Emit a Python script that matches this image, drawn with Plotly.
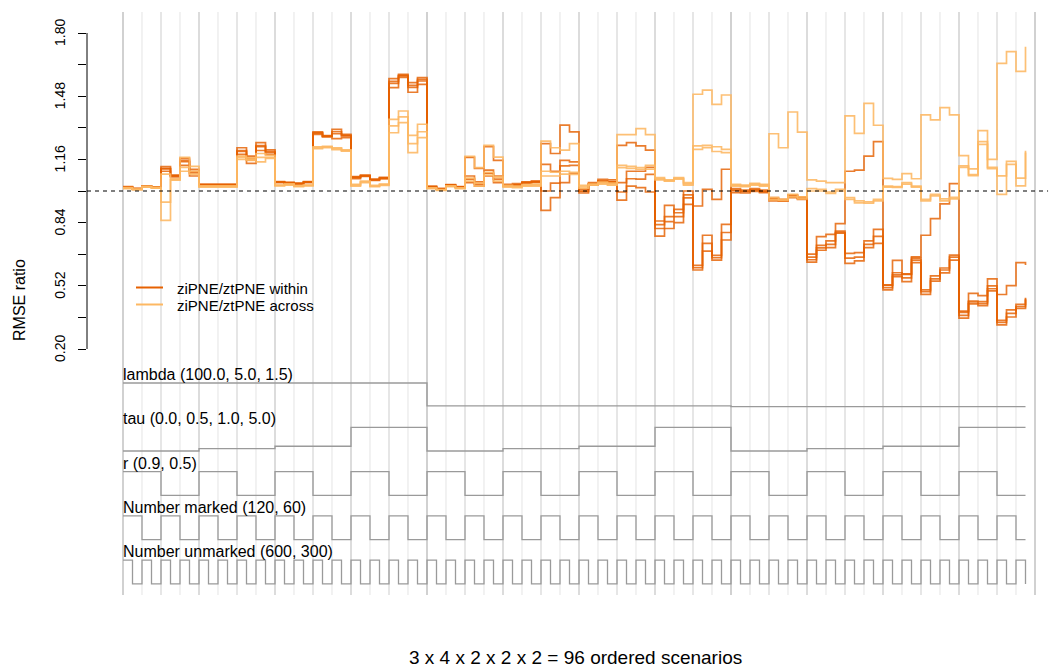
import plotly.graph_objects as go

# ---------------- data ----------------
scenario = list(range(1, 97))

w_hi = [1.022, 1.013, 1.026, 1.021, 1.123, 1.080, 1.165, 1.110, 1.034, 1.034, 1.034, 1.034,
        1.219, 1.177, 1.245, 1.208, 1.048, 1.044, 1.040, 1.048, 1.299, 1.280, 1.312, 1.287,
        1.073, 1.080, 1.060, 1.069, 1.569, 1.590, 1.549, 1.574,
        1.024, 1.013, 1.032, 1.022, 1.076, 1.046, 1.106, 1.076, 1.034, 1.037, 1.046, 1.050,
        1.135, 1.100, 1.155, 1.147, 1.010, 1.042, 1.059, 1.056, 1.042, 1.100, 1.100, 1.120,
        0.848, 0.870, 0.907, 1.000, 0.624, 0.776, 0.674, 0.831,
        1.012, 1.005, 1.012, 1.005, 0.966, 0.958, 0.980, 0.970, 0.665, 0.725, 0.747, 0.797,
        0.684, 0.688, 0.747, 0.806, 0.522, 0.586, 0.578, 0.660, 0.499, 0.570, 0.610, 0.675,
        0.385, 0.443, 0.440, 0.520, 0.345, 0.398, 0.426, 0.460]
w_mid = [1.020, 1.011, 1.024, 1.019, 1.112, 1.076, 1.148, 1.092, 1.032, 1.032, 1.032, 1.032,
         1.200, 1.158, 1.225, 1.195, 1.045, 1.041, 1.037, 1.045, 1.293, 1.277, 1.290, 1.279,
         1.068, 1.077, 1.057, 1.065, 1.545, 1.583, 1.525, 1.557,
         1.022, 1.011, 1.030, 1.020, 1.060, 1.035, 1.090, 1.060, 1.030, 1.031, 1.043, 1.047,
         1.000, 1.040, 1.127, 1.130, 0.998, 1.036, 1.050, 1.046, 0.995, 1.062, 1.060, 1.084,
         0.810, 0.845, 0.870, 0.965, 0.612, 0.735, 0.662, 0.790,
         1.002, 0.998, 1.005, 0.998, 0.958, 0.952, 0.972, 0.962, 0.652, 0.712, 0.730, 0.790,
         0.660, 0.665, 0.730, 0.770, 0.510, 0.575, 0.560, 0.650, 0.490, 0.555, 0.600, 0.665,
         0.370, 0.438, 0.430, 0.505, 0.335, 0.380, 0.415, 0.455]
w_lo = [1.018, 1.009, 1.022, 1.017, 1.100, 1.072, 1.130, 1.076, 1.030, 1.030, 1.030, 1.030,
        1.185, 1.140, 1.205, 1.185, 1.042, 1.038, 1.034, 1.042, 1.287, 1.274, 1.265, 1.270,
        1.062, 1.074, 1.054, 1.061, 1.523, 1.575, 1.500, 1.540,
        1.020, 1.009, 1.028, 1.018, 1.042, 1.025, 1.076, 1.042, 1.025, 1.025, 1.040, 1.044,
        0.902, 0.966, 1.042, 1.090, 0.990, 1.030, 1.045, 1.040, 0.954, 1.025, 1.017, 0.995,
        0.772, 0.810, 0.840, 0.932, 0.600, 0.696, 0.650, 0.752,
        0.992, 0.990, 0.998, 0.992, 0.950, 0.948, 0.966, 0.958, 0.640, 0.700, 0.713, 0.786,
        0.634, 0.646, 0.713, 0.735, 0.499, 0.566, 0.541, 0.637, 0.477, 0.544, 0.585, 0.650,
        0.356, 0.428, 0.420, 0.494, 0.322, 0.362, 0.405, 0.450]
w_alt = [1.020, 1.012, 1.024, 1.019, 1.115, 1.078, 1.155, 1.100, 1.032, 1.032, 1.032, 1.032,
         1.205, 1.165, 1.230, 1.200, 1.046, 1.042, 1.038, 1.046, 1.295, 1.278, 1.300, 1.282,
         1.070, 1.078, 1.058, 1.066, 1.555, 1.585, 1.535, 1.565,
         1.022, 1.011, 1.030, 1.020, 1.170, 1.115, 1.225, 1.155, 1.030, 1.031, 1.043, 1.047,
         1.240, 1.190, 1.334, 1.299, 1.000, 1.036, 1.050, 1.046, 1.231, 1.245, 1.228, 1.207,
         0.830, 0.927, 0.890, 0.980, 0.924, 1.008, 0.958, 1.110,
         1.005, 0.998, 1.005, 0.998, 0.960, 0.953, 0.974, 0.964, 0.680, 0.769, 0.780, 0.835,
         1.100, 1.106, 1.177, 1.250, 0.525, 0.649, 0.580, 0.666, 0.776, 0.860, 0.935, 1.037,
         0.392, 0.482, 0.470, 0.555, 0.476, 0.521, 0.637, 0.625]

a_hi = [1.017, 1.010, 1.024, 1.018, 1.085, 1.062, 1.120, 1.125, 1.026, 1.026, 1.026, 1.026,
        1.177, 1.168, 1.190, 1.180, 1.030, 1.036, 1.027, 1.030, 1.224, 1.226, 1.219, 1.208,
        1.034, 1.050, 1.028, 1.035, 1.363, 1.405, 1.282, 1.338,
        1.016, 1.007, 1.026, 1.016, 1.065, 1.040, 1.095, 1.070, 1.028, 1.025, 1.032, 1.035,
        1.100, 1.095, 1.100, 1.095, 1.029, 1.035, 1.045, 1.040, 1.130, 1.125, 1.118, 1.130,
        1.068, 1.056, 1.068, 1.042, 1.228, 1.231, 1.224, 1.211,
        1.034, 1.030, 1.039, 1.034, 0.966, 0.958, 0.983, 0.970, 1.012, 1.008, 0.995, 1.008,
        0.966, 0.950, 0.945, 0.958, 1.025, 1.022, 1.042, 1.025, 0.958, 0.983, 0.960, 0.968,
        1.127, 1.083, 1.250, 1.120, 1.077, 1.150, 1.065, 1.204]
a_lo = [1.012, 1.006, 1.020, 1.014, 0.944, 1.055, 1.100, 1.085, 1.020, 1.020, 1.020, 1.020,
        1.160, 1.155, 1.147, 1.165, 1.026, 1.030, 1.022, 1.026, 1.214, 1.220, 1.210, 1.202,
        1.025, 1.042, 1.022, 1.028, 1.295, 1.346, 1.194, 1.270,
        1.012, 1.003, 1.022, 1.012, 1.050, 1.025, 1.080, 1.050, 1.020, 1.017, 1.025, 1.025,
        1.076, 1.076, 1.085, 1.084, 1.015, 1.029, 1.035, 1.029, 1.118, 1.115, 1.110, 1.110,
        1.056, 1.050, 1.060, 1.030, 1.211, 1.220, 1.200, 1.194,
        1.025, 1.022, 1.030, 1.025, 0.955, 0.952, 0.970, 0.960, 1.000, 1.000, 0.988, 1.000,
        0.958, 0.940, 0.938, 0.950, 1.020, 1.018, 1.035, 1.020, 0.950, 0.975, 0.950, 0.960,
        1.120, 1.078, 1.236, 1.113, 0.983, 1.135, 1.026, 1.195]
a_alt = [1.015, 1.008, 1.022, 1.016, 0.851, 1.058, 1.170, 1.100, 1.023, 1.023, 1.023, 1.023,
         1.170, 1.160, 1.170, 1.170, 1.028, 1.033, 1.025, 1.028, 1.220, 1.223, 1.215, 1.205,
         1.030, 1.046, 1.025, 1.032, 1.330, 1.375, 1.240, 1.300,
         1.014, 1.005, 1.024, 1.014, 1.176, 1.118, 1.231, 1.172, 1.024, 1.021, 1.028, 1.030,
         1.253, 1.219, 1.207, 1.240, 1.022, 1.032, 1.040, 1.034, 1.285, 1.285, 1.316, 1.285,
         1.062, 1.053, 1.064, 1.036, 1.490, 1.511, 1.439, 1.486,
         1.030, 1.026, 1.035, 1.030, 1.290, 1.219, 1.400, 1.298, 1.056, 1.050, 1.042, 1.042,
         1.380, 1.292, 1.444, 1.333, 1.064, 1.059, 1.088, 1.062, 1.385, 1.360, 1.422, 1.385,
         1.179, 1.112, 1.306, 1.160, 1.646, 1.706, 1.606, 1.730]

param_labels = ["lambda (100.0, 5.0, 1.5)", "tau (0.0, 0.5, 1.0, 5.0)", "r (0.9, 0.5)",
                "Number marked (120, 60)", "Number unmarked (600, 300)"]
lambda_levels = [100.0, 5.0, 1.5]
tau_levels = [0.0, 0.5, 1.0, 5.0]
r_levels = [0.9, 0.5]
marked_levels = [120, 60]
unmarked_levels = [600, 300]

y_ticks = [0.20, 0.36, 0.52, 0.68, 0.84, 1.00, 1.16, 1.32, 1.48, 1.64, 1.80]
y_ticklabels = ["0.20", "", "0.52", "", "0.84", "", "1.16", "", "1.48", "", "1.80"]

legend_names = ["ziPNE/ztPNE within", "ziPNE/ztPNE across"]
x_title = "3 x 4 x 2 x 2 x 2 = 96 ordered scenarios"
y_title = "RMSE ratio"

# ---------------- layout constants ----------------
W, H = 1050, 669
ML = 87
PX_PER_X = 9.5
X0 = 1 - 36 / PX_PER_X
X1 = X0 + (W - ML) / PX_PER_X
PX_PER_Y = 197.5
Y_TOP = 1.80 + 33 / PX_PER_Y
Y_BOT = Y_TOP - H / PX_PER_Y

COL_WITHIN = "#E66101"
COL_ACROSS = "#FDB863"
FONT = "Liberation Sans, Arial, sans-serif"


def px_x(p):
    return (p - ML) / (W - ML)


def px_y(p):
    return 1 - p / H


fig = go.Figure()

# nested-loop design table
design = []
for lam in lambda_levels:
    for tau in tau_levels:
        for r in r_levels:
            for m in marked_levels:
                for u in unmarked_levels:
                    design.append((lam, tau, r, m, u))

# vertical reference lines (every second scenario boundary)
shapes = []
for b in range(1, 98, 2):
    off = b - 1
    if off % 32 == 0:
        c = "#BEBEBE"
    elif off % 8 == 0:
        c = "#CDCDCD"
    elif off % 4 == 0:
        c = "#DCDCDC"
    else:
        c = "#ECECEC"
    shapes.append(dict(type="line", xref="x", yref="y", x0=b, x1=b,
                       y0=0.20 - 246 / PX_PER_Y, y1=1.80 + 21 / PX_PER_Y,
                       line=dict(color=c, width=1.4), layer="below"))

# y axis line (only over the data range)
shapes.append(dict(type="line", xref="paper", yref="y", x0=0, x1=0,
                   y0=y_ticks[0], y1=y_ticks[-1], line=dict(color="black", width=1)))
# reference line at 1
shapes.append(dict(type="line", xref="paper", yref="y", x0=0, x1=0.998, y0=1.0, y1=1.0,
                   line=dict(color="black", width=1.2, dash="4px,4px")))

# data traces
within_lines = [w_hi, w_mid, w_lo, w_alt]
across_lines = [a_hi, a_lo, a_alt]
for k, ys in enumerate(within_lines):
    fig.add_trace(go.Scatter(x=scenario, y=ys, mode="lines", line_shape="hv",
                             line=dict(color=COL_WITHIN, width=1.7), opacity=0.82,
                             name=legend_names[0], showlegend=False))
for k, ys in enumerate(across_lines):
    fig.add_trace(go.Scatter(x=scenario, y=ys, mode="lines", line_shape="hv",
                             line=dict(color=COL_ACROSS, width=1.7), opacity=0.88,
                             name=legend_names[1], showlegend=False))

# parameter step lines
row_top0 = 1.80 - (383 - 33) / PX_PER_Y
row_gap = 44.3 / PX_PER_Y
row_h = 23.7 / PX_PER_Y
annotations = []
for j in range(5):
    col = [d[j] for d in design]
    lo, hi = min(col), max(col)
    top = row_top0 - j * row_gap
    bot = top - row_h
    ys = [bot + row_h * (v - lo) / (hi - lo) for v in col]
    fig.add_trace(go.Scatter(x=scenario, y=ys, mode="lines", line_shape="hv",
                             line=dict(color="#9A9A9A", width=1.3), showlegend=False,
                             hoverinfo="skip"))
    annotations.append(dict(x=1, y=top + 8.5 / PX_PER_Y, xref="x", yref="y",
                            text=param_labels[j], showarrow=False, xanchor="left",
                            yanchor="middle", xshift=-2,
                            font=dict(family=FONT, size=16, color="black")))

# legend (drawn by hand, R style)
leg_rows = [288.5, 305.5]
leg_cols = [COL_WITHIN, COL_ACROSS]
for name, py, c in zip(legend_names, leg_rows, leg_cols):
    shapes.append(dict(type="line", xref="paper", yref="paper",
                       x0=px_x(136), x1=px_x(163), y0=px_y(py - 1), y1=px_y(py - 1),
                       line=dict(color=c, width=2)))
    annotations.append(dict(x=px_x(175), y=px_y(py), xref="paper", yref="paper",
                            text=name, showarrow=False, xanchor="left", yanchor="middle",
                            font=dict(family=FONT, size=15, color="black")))

# tick labels
for v, t in zip(y_ticks, y_ticklabels):
    if t:
        annotations.append(dict(x=px_x(60), y=v, xref="paper", yref="y",
                                text=t, showarrow=False, textangle=-90,
                                xanchor="center", yanchor="middle",
                                font=dict(family=FONT, size=14, color="black")))
# axis titles
annotations.append(dict(x=px_x(19), y=px_y(300), xref="paper", yref="paper",
                        text=y_title, showarrow=False, textangle=-90,
                        xanchor="center", yanchor="middle",
                        font=dict(family=FONT, size=16, color="black")))
annotations.append(dict(x=px_x(575), y=px_y(657), xref="paper", yref="paper",
                        text=x_title, showarrow=False, xanchor="center", yanchor="middle",
                        font=dict(family=FONT, size=19, color="black")))

fig.update_layout(
    width=W, height=H,
    margin=dict(l=ML, r=0, t=0, b=0),
    paper_bgcolor="white", plot_bgcolor="white",
    xaxis=dict(range=[X0, X1], visible=False, fixedrange=True),
    yaxis=dict(range=[Y_BOT, Y_TOP], showgrid=False, zeroline=False, showline=False,
               tickvals=y_ticks, ticktext=["" for _ in y_ticks], ticks="outside",
               ticklen=8, tickwidth=1, tickcolor="black", fixedrange=True),
    shapes=shapes,
    annotations=annotations,
    showlegend=False,
    font=dict(family=FONT),
)

fig.write_html("out.html", config={"displayModeBar": False},
               post_script="document.body.style.margin='0';document.body.style.overflow='hidden';")
